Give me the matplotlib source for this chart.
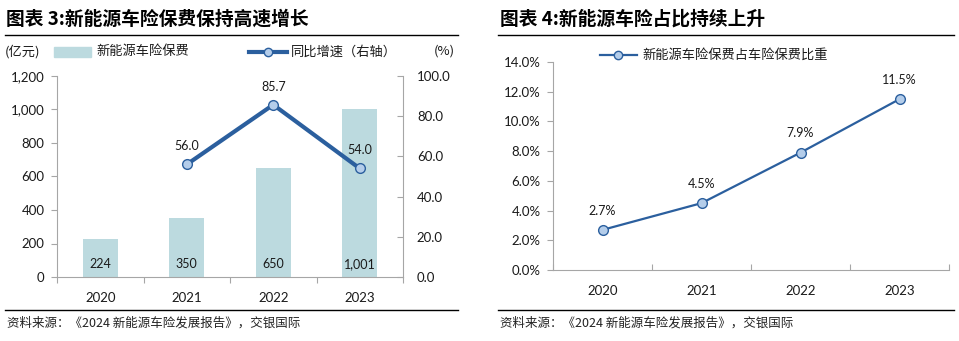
import matplotlib
matplotlib.use("Agg")
import matplotlib.pyplot as plt
from matplotlib.lines import Line2D
from matplotlib.patches import Rectangle

plt.rcParams['font.family'] = ['Lato', 'Noto Sans CJK SC', 'DejaVu Sans']

years = ['2020', '2021', '2022', '2023']
premium = [224, 350, 650, 1001]
premium_labels = ['224', '350', '650', '1,001']
growth_years_idx = [1, 2, 3]
growth = [56.0, 85.7, 54.0]
share = [2.7, 4.5, 7.9, 11.5]

W, H = 959, 341
fig = plt.figure(figsize=(W / 100, H / 100), dpi=100)

def fx(px):
    return px / W

def fy(py):
    return 1 - py / H

def ax_rect(x0, y0, x1, y1):
    return [fx(x0), fy(y1), fx(x1) - fx(x0), (y1 - y0) / H]

CJK = ['Noto Sans CJK SC', 'DejaVu Sans']
txtc = '#1a1a1a'
spc = '#a6a6a6'
bar_c = '#bcdadf'
line_c = '#2b5f9e'
mk_face = '#b4cdea'
TS = 9.5   # tick label size
LS = 9.5   # legend size

# ---------------- Titles and rules ----------------
fig.text(fx(6), fy(19), '图表 3:新能源车险保费保持高速增长', family=CJK, fontsize=13.5,
         fontweight='bold', va='center', ha='left', color='black')
fig.text(fx(500), fy(19), '图表 4:新能源车险占比持续上升', family=CJK, fontsize=13.5,
         fontweight='bold', va='center', ha='left', color='black')
for (a, b) in [(5, 458), (498, 954)]:
    fig.add_artist(Line2D([fx(a), fx(b)], [fy(35), fy(35)], color='black', lw=1.0))
    fig.add_artist(Line2D([fx(a), fx(b)], [fy(310), fy(310)], color='black', lw=1.0))
fig.text(fx(7), fy(323), '资料来源：《2024 新能源车险发展报告》，交银国际', family=CJK,
         fontsize=9, style='italic', va='center', ha='left', color='#222222')
fig.text(fx(500), fy(323), '资料来源：《2024 新能源车险发展报告》，交银国际', family=CJK,
         fontsize=9, style='italic', va='center', ha='left', color='#222222')

# ---------------- Left chart ----------------
ax = fig.add_axes(ax_rect(57, 76, 403, 277))
x = list(range(len(years)))
ax.bar(x, premium, width=0.4, color=bar_c, zorder=1)
ax.set_xlim(-0.5, 3.5)
ax.set_ylim(0, 1200)
ax.set_yticks(range(0, 1201, 200))
ax.set_yticklabels(['0', '200', '400', '600', '800', '1,000', '1,200'])
ax.set_xticks([-0.5, 0.5, 1.5, 2.5, 3.5], minor=False)
ax.set_xticklabels([])
ax.set_xticks(x, minor=True)
ax.set_xticklabels(years, minor=True)
ax.tick_params(axis='x', which='major', length=4, color=spc, direction='out')
ax.tick_params(axis='x', which='minor', length=0, labelsize=TS, pad=11, labelcolor=txtc)
ax.tick_params(axis='y', length=4, color=spc, labelsize=TS, labelcolor=txtc, pad=5)
for s in ['left', 'bottom']:
    ax.spines[s].set_color(spc)
for s in ['top', 'right']:
    ax.spines[s].set_visible(False)
for xi, v, lab in zip(x, premium, premium_labels):
    ax.text(xi, 75, lab, ha='center', va='center', fontsize=9, color=txtc, zorder=3)

ax2 = ax.twinx()
ax2.set_ylim(0, 100)
ax2.set_yticks(range(0, 101, 20))
ax2.set_yticklabels([f'{v:.1f}' for v in range(0, 101, 20)])
ax2.tick_params(axis='y', length=4, color=spc, labelsize=TS, labelcolor=txtc,
                direction='in', pad=10)
ax2.spines['right'].set_color(spc)
for s in ['top', 'left', 'bottom']:
    ax2.spines[s].set_visible(False)
ax2.plot(growth_years_idx, growth, color=line_c, lw=3, marker='o', ms=7,
         mfc=mk_face, mec=line_c, mew=1, zorder=4)
for xi, v in zip(growth_years_idx, growth):
    ax2.text(xi, v + 6, f'{v:.1f}', ha='center', va='bottom', fontsize=9, color=txtc)

# left legend
fig.text(fx(5), fy(52), '(亿元)', family=CJK, fontsize=LS, va='center', ha='left', color=txtc)
fig.add_artist(Rectangle((fx(54), fy(57)), fx(91) - fx(54), 10 / H, color=bar_c,
                         transform=fig.transFigure))
fig.text(fx(96), fy(52), '新能源车险保费', family=CJK, fontsize=LS, va='center', ha='left', color=txtc)
fig.add_artist(Line2D([fx(249), fx(287)], [fy(52), fy(52)], color=line_c, lw=3,
                      transform=fig.transFigure))
fig.add_artist(Line2D([fx(268)], [fy(52)], color=line_c, marker='o', ms=6, mfc=mk_face,
                      mec=line_c, transform=fig.transFigure))
fig.text(fx(291), fy(52), '同比增速（右轴）', family=CJK, fontsize=LS, va='center', ha='left', color=txtc)
fig.text(fx(434), fy(51), '(%)', family=CJK, fontsize=LS, va='center', ha='left', color=txtc)

# ---------------- Right chart ----------------
bx = fig.add_axes(ax_rect(553, 62, 949, 270))
bx.plot(x, share, color=line_c, lw=1.6, marker='o', ms=7, mfc=mk_face, mec=line_c,
        mew=1, zorder=4)
bx.set_xlim(-0.5, 3.5)
bx.set_ylim(0, 14)
bx.set_yticks(range(0, 15, 2))
bx.set_yticklabels([f'{v:.1f}%' for v in range(0, 15, 2)])
bx.set_xticks([-0.5, 0.5, 1.5, 2.5, 3.5], minor=False)
bx.set_xticklabels([])
bx.set_xticks(x, minor=True)
bx.set_xticklabels(years, minor=True)
bx.tick_params(axis='x', which='major', length=4, color=spc, direction='in')
bx.tick_params(axis='x', which='minor', length=0, labelsize=TS, pad=11, labelcolor=txtc)
bx.tick_params(axis='y', length=4, color=spc, labelsize=TS, labelcolor=txtc, pad=5)
for s in ['left', 'bottom']:
    bx.spines[s].set_color(spc)
for s in ['top', 'right']:
    bx.spines[s].set_visible(False)
for xi, v in zip(x, share):
    bx.text(xi, v + 0.9, f'{v:.1f}%', ha='center', va='bottom', fontsize=9, color=txtc)

fig.add_artist(Line2D([fx(600), fx(637)], [fy(55), fy(55)], color=line_c, lw=1.6,
                      transform=fig.transFigure))
fig.add_artist(Line2D([fx(618)], [fy(55)], color=line_c, marker='o', ms=6, mfc=mk_face,
                      mec=line_c, transform=fig.transFigure))
fig.text(fx(642), fy(55), '新能源车险保费占车险保费比重', family=CJK, fontsize=LS,
         va='center', ha='left', color=txtc)

fig.savefig('out.png', dpi=100)
